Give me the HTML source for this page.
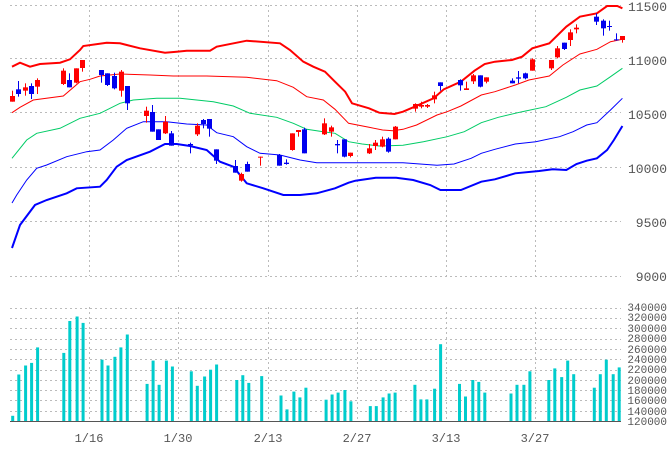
<!DOCTYPE html>
<html><head><meta charset="utf-8"><style>
html,body{margin:0;padding:0;background:#fff;width:670px;height:450px;overflow:hidden}
svg{display:block}
text{font-family:"Liberation Mono","DejaVu Sans Mono",monospace;fill:#555}
</style></head><body>
<svg id="s" width="670" height="450" xmlns="http://www.w3.org/2000/svg">
<g id="grid" stroke="#bbb" stroke-dasharray="2,3" stroke-width="1"></g>
<g font-size="13">
<text x="667" y="11" text-anchor="end">11500</text>
<text x="667" y="65" text-anchor="end">11000</text>
<text x="667" y="119" text-anchor="end">10500</text>
<text x="667" y="173" text-anchor="end">10000</text>
<text x="667" y="227" text-anchor="end">9500</text>
<text x="667" y="281" text-anchor="end">9000</text>
</g>
<g font-size="11" text-anchor="end">
<text x="667" y="311">340000</text><text x="667" y="321">320000</text><text x="667" y="332">300000</text>
<text x="667" y="342">280000</text><text x="667" y="353">260000</text><text x="667" y="363">240000</text>
<text x="667" y="373">220000</text><text x="667" y="384">200000</text><text x="667" y="394">180000</text>
<text x="667" y="404">160000</text><text x="667" y="415">140000</text><text x="667" y="425">120000</text>
</g>
<g font-size="12" text-anchor="middle">
<text x="89" y="442">1/16</text><text x="178" y="442">1/30</text><text x="268" y="442">2/13</text>
<text x="357" y="442">2/27</text><text x="446" y="442">3/13</text><text x="535" y="442">3/27</text>
</g>
<g id="lines" fill="none"></g>
<g id="candles"></g>
<g id="vol" fill="#00CCCC"></g>
<line x1="10" y1="421.5" x2="621" y2="421.5" stroke="#555" stroke-width="1"/>
</svg>
<script>
var NS="http://www.w3.org/2000/svg";
function el(p,t,a){var e=document.createElementNS(NS,t);for(var k in a)e.setAttribute(k,a[k]);p.appendChild(e);return e;}
var g=document.getElementById('grid');
[5.5,58.5,112.5,167.5,221.5,276.5].forEach(function(y){el(g,'line',{x1:10,x2:621,y1:y,y2:y});});
for(var i=0;i<11;i++){var y=Math.round(307.7+i*10.3)+0.5;el(g,'line',{x1:10,x2:621,y1:y,y2:y});}
[89,178,268,357,446,535].forEach(function(x){el(g,'line',{x1:x+.5,x2:x+.5,y1:5,y2:276});el(g,'line',{x1:x+.5,x2:x+.5,y1:307,y2:421});});
function conv(a,b){var r=[];a.forEach(function(p){r.push([p[0]/3,p[1]/3]);});b.forEach(function(p){r.push([335+p[0]/2.94,p[1]/3]);});return r;}
function pl(pts,c,w){el(document.getElementById('lines'),'polyline',{points:pts.map(function(p){return p[0].toFixed(1)+','+p[1].toFixed(1)}).join(' '),stroke:c,'stroke-width':w});}
pl(conv([[36,200],[60,188],[90,200],[120,192],[180,188],[210,178],[240,150],[250,138],[320,128],[360,130],[420,145],[495,158],[530,155],[560,152],[630,152],[650,140],[740,122],[840,130],[870,150],[910,185],[940,200],[975,215],[1005,245]],
[[30,275],[50,310],[100,325],[130,338],[175,342],[200,335],[230,322],[290,295],[320,268],[370,245],[410,212],[440,192],[470,185],[520,180],[550,170],[580,145],[630,130],[680,80],[720,50],[770,40],[800,18],[830,18],[845,25]]),'#ff0000',2);
pl(conv([[36,338],[60,322],[100,300],[190,288],[240,245],[270,238],[300,228],[360,222],[450,225],[520,228],[620,228],[740,232],[830,242],[880,262],[920,290],[970,300],[1005,328]],
[[40,370],[100,382],[140,390],[170,392],[200,388],[240,375],[300,345],[330,335],[370,318],[430,285],[470,275],[530,255],[570,240],[630,228],[670,195],[720,162],[770,148],[810,125],[845,118]]),'#ff0000',1);
pl(conv([[36,475],[80,420],[110,400],[180,385],[240,355],[300,340],[360,310],[400,300],[470,295],[540,295],[640,305],[700,318],[750,340],[830,352],[880,370],[920,388],[970,395],[1005,400]],
[[40,425],[80,432],[130,438],[200,436],[260,425],[330,410],[380,395],[430,368],[480,352],[550,335],[620,320],[680,292],[720,270],[770,258],[810,230],[845,205]]),'#00cc66',1);
pl(conv([[36,609],[50,585],[80,540],[110,505],[140,495],[200,470],[260,455],[300,450],[340,420],[380,385],[430,365],[500,365],[560,372],[620,375],[650,398],[700,410],[740,440],[780,460],[840,465],[900,480],[950,488],[1005,488]],
[[200,488],[300,496],[350,492],[400,475],[430,460],[470,448],[530,432],[590,425],[660,410],[700,395],[740,375],[770,368],[810,330],[845,295]]),'#0000ff',1);
pl(conv([[36,744],[60,675],[105,615],[140,600],[200,580],[230,565],[300,560],[320,540],[350,500],[380,480],[450,455],[495,432],[530,432],[570,438],[620,450],[660,485],[700,500],[740,550],[790,565],[850,585],[900,585],[950,580],[1005,565]],
[[40,548],[60,542],[120,533],[180,533],[230,540],[280,555],[310,570],[370,570],[430,545],[470,538],[530,520],[600,513],[640,508],[680,510],[710,492],[740,482],[770,475],[800,450],[820,420],[845,378]]),'#0000ff',2);
var c1=[[37,'r',288,305,272,305],[55,'b',268,282,243,290],[75,'r',262,272,250,287],[93,'b',258,282,250,297],[112,'r',240,260,235,282],[190,'r',212,252,205,255],[208,'b',240,262,220,262],[229,'r',205,248,205,250],[247,'r',180,204,180,215],[304,'b',210,225,210,248],[322,'b',220,255,220,258],[343,'b',228,265,218,268],[362,'r',215,272,210,290],[380,'b',258,310,258,330],[439,'r',332,348,320,368],[457,'b',336,395,315,395],[475,'b',388,420,388,420],[496,'r',365,400,348,402],[514,'b',400,437,393,437],[571,'b',432,436,428,460],[590,'r',377,403,370,408],[610,'b',360,372,357,385],[628,'b',357,386,357,410],[647,'b',448,482,448,492],[706,'b',498,518,480,518],[724,'r',522,542,518,545],[742,'b',492,515,485,515],[781,'r',470,472,470,497],[838,'b',465,497,462,497],[857,'b',488,492,478,494],[877,'r',400,450,400,452],[895,'r',390,396,390,410],[913,'b',388,460,383,460],[973,'r',370,403,355,405],[992,'r',382,395,377,410]];
var c2=[[5,'b',432,436,420,460],[25,'b',418,470,418,472],[43,'r',458,468,458,472],[100,'r',445,460,432,462],[118,'r',428,438,420,450],[138,'r',418,440,410,442],[157,'b',416,455,412,458],[176,'r',380,418,378,418],[235,'r',312,326,310,335],[252,'r',315,320,305,325],[270,'r',315,320,312,324],[292,'r',286,298,275,310],[310,'b',247,258,247,272],[368,'b',240,256,238,272],[385,'r',265,270,245,270],[406,'r',226,244,222,252],[425,'b',226,260,226,262],[443,'r',232,245,232,250],[520,'b',242,250,235,250],[538,'b',232,236,213,250],[558,'b',220,235,218,238],[578,'r',178,212,175,212],[634,'r',180,205,180,210],[652,'r',145,172,138,175],[673,'b',128,147,128,150],[691,'r',97,120,88,138],[710,'r',83,88,73,100],[768,'b',50,65,40,75],[788,'b',62,85,58,107],[806,'b',78,80,62,92],[826,'b',118,121,100,122],[844,'r',108,120,108,128]];
var cg=document.getElementById('candles');
function cd(x,col,bt,bb,wt,wb){var c=col=='r'?'#ff0000':'#0000ee';x=Math.round(x);
el(cg,'rect',{x:x,y:wt/3,width:1,height:(wb-wt)/3,fill:c});
var h=Math.max(1,(bb-bt)/3);el(cg,'rect',{x:x-2,y:bt/3,width:5,height:h,fill:c});}
c1.forEach(function(c){cd(c[0]/3,c[1],c[2],c[3],c[4],c[5]);});
c2.forEach(function(c){cd(335+c[0]/2.94,c[1],c[2],c[3],c[4],c[5]);});
var vx=[29,43,59,73,87,148,162,179,193,237,251,267,281,296,342,356,370,387,401,445,459,476,490,504,551,565,579,609,654,668,684,698,712,759,773,787,803,817,862,876,892,906,920,966,980,994,1012,1026,1070,1084,1101,1115,1129,1190,1204,1220,1234,1278,1292,1308,1322,1336,1384,1398,1412,1428,1442];
var vt=[390,262,234,226,178,195,96,82,102,216,234,207,178,138,291,219,294,219,237,252,297,268,247,231,279,264,288,267,327,370,315,333,303,340,324,318,310,345,360,360,333,321,318,294,339,339,306,168,291,330,279,285,318,321,294,294,252,279,243,270,219,261,303,261,216,261,240];
var vg=document.getElementById('vol');
vx.forEach(function(x,i){var y=290+vt[i]/3.1;el(vg,'rect',{x:(x/2.33-1.2).toFixed(1),y:y.toFixed(1),width:3,height:(421-y).toFixed(1)});});
</script>
</body></html>
